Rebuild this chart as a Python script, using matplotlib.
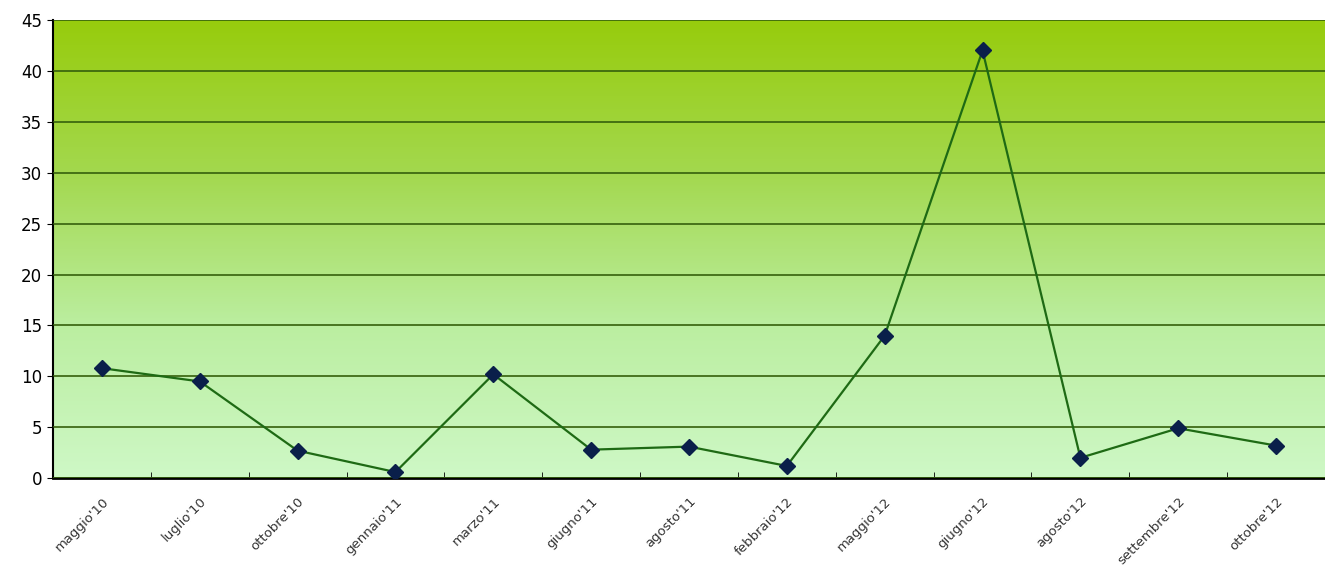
import matplotlib.pyplot as plt
import matplotlib.transforms as mtransforms
import numpy as np
from matplotlib.colors import LinearSegmentedColormap

# data
months = ["maggio'10", "luglio'10", "ottobre'10", "gennaio'11", "marzo'11",
          "giugno'11", "agosto'11", "febbraio'12", "maggio'12", "giugno'12",
          "agosto'12", "settembre'12", "ottobre'12"]
values = [10.8, 9.5, 2.7, 0.6, 10.2, 2.8, 3.1, 1.2, 14.0, 42.0, 2.0, 4.9, 3.2]
y_ticks = [0, 5, 10, 15, 20, 25, 30, 35, 40, 45]

fig = plt.figure(figsize=(13.25, 5.86), dpi=100)
ax = fig.add_axes([0.04, 0.184, 0.96, 0.782])

# green gradient background
bg = LinearSegmentedColormap.from_list(
    "bg", ["#cef8c6", "#bbeea0", "#a3d84e", "#97cc0c"])
grad = np.linspace(0, 1, 256).reshape(-1, 1)
ax.imshow(grad, cmap=bg, aspect="auto", origin="lower",
          extent=[-0.5, 12.5, 0, 45], zorder=0)

x = np.arange(len(months))
ax.plot(x, values, color="#1e6a14", linewidth=1.6, zorder=3)
ax.plot(x, values, linestyle="none", marker="D", markersize=8,
        color="#0a1f4a", markeredgecolor="#0a1f4a", zorder=4)

ax.set_xlim(-0.5, 12.5)
ax.set_ylim(0, 45)
ax.set_yticks(y_ticks)
ax.yaxis.grid(True, color="#35600c", linewidth=1.2)
ax.set_axisbelow(False)
for line in ax.get_ygridlines():
    line.set_zorder(1)

ax.set_xticks(x)
ax.set_xticklabels(months, rotation=45, ha="right", rotation_mode="anchor",
                   fontsize=9.5, color="#333333")
offset = mtransforms.ScaledTranslation(10 / 100, 0, fig.dpi_scale_trans)
for lbl in ax.get_xticklabels():
    lbl.set_transform(lbl.get_transform() + offset)
ax.set_xticks(np.arange(-0.5, 13, 1), minor=True)
ax.tick_params(axis="x", which="major", length=0, pad=12)
ax.tick_params(axis="x", which="minor", length=4, direction="in")
ax.tick_params(axis="y", length=4, labelsize=12, pad=4)

for side in ["top", "right"]:
    ax.spines[side].set_visible(False)
ax.spines["bottom"].set_linewidth(2)
ax.spines["left"].set_linewidth(1.5)

fig.savefig("out.png", dpi=100)
